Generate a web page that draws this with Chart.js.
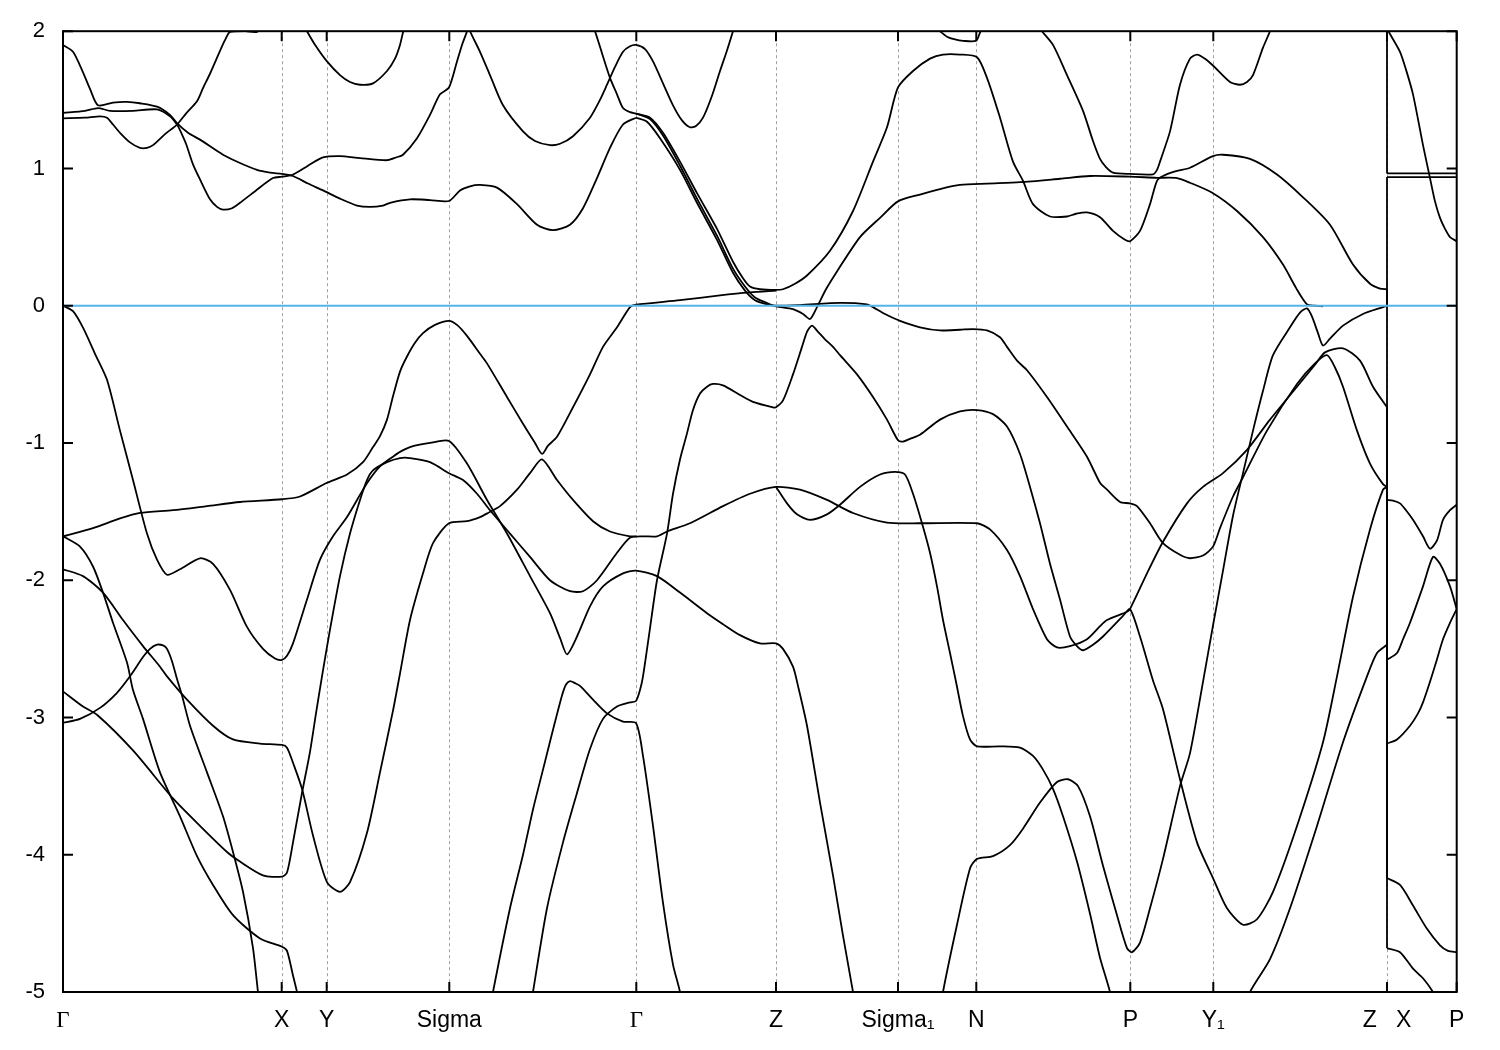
<!DOCTYPE html>
<html>
<head>
<meta charset="utf-8">
<script src="https://cdn.jsdelivr.net/npm/chart.js@4/dist/chart.umd.min.js"></script>
<style>
html,body{margin:0;padding:0;background:#fff;}
#wrap{width:1500px;height:1050px;}
</style>
</head>
<body>
<div id="wrap"><canvas id="c" width="1500" height="1050"></canvas></div>
<script>
// ---- k-path (high-symmetry points) ----
const kTicks  = [0, 2.187, 2.637, 3.863, 5.733, 7.13, 8.35, 9.133, 10.673, 11.503, 13.24, 13.937];
const kLabels = ['Γ', 'X', 'Y', 'Sigma', 'Γ', 'Z', 'Sigma₁', 'N', 'P', 'Y₁', 'Z   X', 'P'];
// ---- energy axis ----
const yTicks = [2, 1, 0, -1, -2, -3, -4, -5];
const fermiLevel = 0;

// ---- bands: [k, E(eV)] ----
const band01 = [[0,0],[0.10,-0.04],[0.20,-0.16],[0.32,-0.35],[0.44,-0.54],[0.57,-0.91],[0.70,-1.27],[0.84,-1.66],[0.94,-1.85],[1.04,-1.96],[1.17,-1.92],[1.37,-1.84],[1.50,-1.88],[1.67,-2.07],[1.84,-2.34],[2.00,-2.50],[2.12,-2.57],[2.19,-2.58],[2.24,-2.55],[2.30,-2.46],[2.44,-2.14],[2.57,-1.85],[2.70,-1.68],[2.84,-1.54],[3.00,-1.34],[3.07,-1.26],[3.17,-1.17],[3.30,-1.10],[3.37,-1.065],[3.47,-1.03],[3.67,-1.0],[3.86,-0.985],[4.04,-1.15],[4.24,-1.415],[4.44,-1.66],[4.67,-1.97],[4.87,-2.24],[4.97,-2.42],[5.04,-2.54],[5.14,-2.41],[5.27,-2.19],[5.40,-2.045],[5.60,-1.95],[5.73,-1.93],[5.94,-1.97],[6.17,-2.09],[6.44,-2.24],[6.60,-2.32],[6.77,-2.40],[6.97,-2.46],[7.13,-2.46],[7.20,-2.50],[7.30,-2.63],[7.35,-2.77],[7.44,-3.06],[7.57,-3.62],[7.70,-4.15],[7.80,-4.59],[7.90,-5.0],[7.93,-5.15]];
const band02 = [[0,-1.68],[0.30,-1.62],[0.57,-1.55],[0.77,-1.51],[1.10,-1.49],[1.44,-1.46],[1.77,-1.43],[2.19,-1.41],[2.37,-1.39],[2.64,-1.29],[2.84,-1.23],[3.00,-1.14],[3.10,-1.03],[3.17,-0.95],[3.24,-0.83],[3.30,-0.66],[3.37,-0.48],[3.44,-0.37],[3.52,-0.27],[3.60,-0.20],[3.72,-0.14],[3.86,-0.11],[3.94,-0.14],[4.04,-0.22],[4.17,-0.35],[4.24,-0.42],[4.44,-0.665],[4.60,-0.86],[4.72,-1.0],[4.79,-1.08],[4.85,-1.02],[4.94,-0.955],[5.10,-0.74],[5.27,-0.50],[5.40,-0.30],[5.54,-0.157],[5.67,-0.01],[5.73,0.008],[6.17,0.04],[6.57,0.075],[6.87,0.097],[7.13,0.11]];
const band03 = [[0,-1.68],[0.17,-1.755],[0.30,-1.90],[0.40,-2.09],[0.50,-2.31],[0.64,-2.60],[0.70,-2.80],[0.80,-3.01],[0.97,-3.40],[1.17,-3.72],[1.34,-4.01],[1.50,-4.22],[1.70,-4.44],[1.97,-4.61],[2.19,-4.67],[2.24,-4.70],[2.30,-4.88],[2.34,-5.0],[2.36,-5.1]];
const band04 = [[0,-1.92],[0.20,-1.97],[0.40,-2.09],[0.60,-2.29],[0.80,-2.48],[0.97,-2.63],[1.04,-2.70],[1.24,-2.87],[1.50,-3.06],[1.70,-3.16],[1.97,-3.19],[2.19,-3.20],[2.24,-3.22],[2.30,-3.33],[2.39,-3.52],[2.50,-3.86],[2.64,-4.20],[2.77,-4.27],[2.87,-4.20],[3.04,-3.84],[3.17,-3.40],[3.30,-2.95],[3.37,-2.68],[3.47,-2.29],[3.60,-1.95],[3.70,-1.73],[3.86,-1.585],[4.04,-1.57],[4.17,-1.54],[4.25,-1.51],[4.37,-1.46],[4.54,-1.34],[4.67,-1.22],[4.79,-1.12],[4.94,-1.27],[5.10,-1.415],[5.30,-1.57],[5.47,-1.645],[5.67,-1.68],[5.73,-1.68]];
const band05 = [[0,-2.81],[0.20,-2.92],[0.34,-2.98],[0.70,-3.24],[1.10,-3.59],[1.37,-3.79],[1.64,-3.98],[1.77,-4.05],[2.00,-4.15],[2.19,-4.16],[2.24,-4.13],[2.30,-3.91],[2.39,-3.55],[2.47,-3.25],[2.53,-2.97],[2.59,-2.70],[2.67,-2.36],[2.77,-1.97],[2.87,-1.66],[2.97,-1.415],[3.04,-1.27],[3.10,-1.20],[3.24,-1.14],[3.37,-1.11],[3.47,-1.11],[3.67,-1.14],[3.86,-1.22],[4.00,-1.27],[4.14,-1.37],[4.27,-1.49],[4.47,-1.66],[4.67,-1.83],[4.87,-2.0],[5.07,-2.08],[5.20,-2.08],[5.34,-2.0],[5.54,-1.80],[5.67,-1.69],[5.80,-1.68],[5.94,-1.68],[6.04,-1.645],[6.27,-1.585],[6.60,-1.46],[6.87,-1.37],[7.13,-1.32],[7.37,-1.34],[7.64,-1.415],[7.90,-1.51],[8.24,-1.58],[8.57,-1.585],[9.14,-1.585],[9.27,-1.63],[9.44,-1.78],[9.57,-1.97],[9.70,-2.21],[9.84,-2.43],[9.94,-2.49],[10.07,-2.48],[10.24,-2.43],[10.37,-2.335],[10.44,-2.29],[10.64,-2.23],[10.67,-2.21],[10.84,-1.95],[11.00,-1.72],[11.24,-1.44],[11.40,-1.32],[11.60,-1.22],[11.84,-1.05],[12.07,-0.83],[12.34,-0.59],[12.52,-0.43],[12.62,-0.34],[12.80,-0.31],[12.97,-0.40],[13.10,-0.59],[13.24,-0.74]];
const band06 = [[0,-3.04],[0.17,-3.01],[0.37,-2.93],[0.54,-2.82],[0.67,-2.70],[0.80,-2.56],[0.87,-2.50],[0.94,-2.47],[1.00,-2.475],[1.04,-2.50],[1.09,-2.59],[1.14,-2.72],[1.19,-2.84],[1.27,-3.06],[1.44,-3.40],[1.60,-3.72],[1.70,-3.98],[1.80,-4.27],[1.90,-4.68],[1.95,-5.0],[1.97,-5.1]];
const band07 = [[4.28,-5.1],[4.30,-5.0],[4.47,-4.39],[4.60,-4.0],[4.70,-3.67],[4.80,-3.38],[4.90,-3.09],[4.99,-2.84],[5.03,-2.76],[5.07,-2.735],[5.12,-2.75],[5.17,-2.77],[5.30,-2.87],[5.44,-2.97],[5.60,-3.03],[5.73,-3.04],[5.80,-3.28],[5.90,-3.79],[6.00,-4.35],[6.10,-4.80],[6.17,-5.0],[6.18,-5.1]];
const band08 = [[4.68,-5.1],[4.70,-5.0],[4.84,-4.39],[5.00,-3.91],[5.14,-3.55],[5.27,-3.23],[5.40,-3.01],[5.54,-2.92],[5.67,-2.89],[5.73,-2.88],[5.77,-2.80],[5.80,-2.70],[5.87,-2.35],[5.94,-2.0],[6.04,-1.66],[6.10,-1.37],[6.17,-1.12],[6.24,-0.93],[6.30,-0.76],[6.37,-0.64],[6.44,-0.59],[6.50,-0.57],[6.60,-0.58],[6.77,-0.65],[6.90,-0.70],[7.10,-0.74],[7.13,-0.74],[7.20,-0.69],[7.30,-0.50],[7.39,-0.30],[7.44,-0.19],[7.49,-0.145],[7.55,-0.19],[7.62,-0.245],[7.70,-0.30],[7.77,-0.36],[7.94,-0.50],[8.10,-0.665],[8.24,-0.83],[8.35,-0.98],[8.40,-0.99],[8.47,-0.97],[8.57,-0.94],[8.77,-0.83],[8.97,-0.77],[9.14,-0.76],[9.30,-0.79],[9.44,-0.88],[9.57,-1.08],[9.67,-1.32],[9.77,-1.585],[9.87,-1.88],[9.97,-2.14],[10.07,-2.41],[10.14,-2.48],[10.20,-2.51],[10.30,-2.47],[10.40,-2.41],[10.60,-2.26],[10.67,-2.21],[10.77,-2.41],[10.90,-2.73],[11.00,-2.94],[11.17,-3.45],[11.34,-3.91],[11.50,-4.17],[11.64,-4.39],[11.80,-4.51],[11.94,-4.47],[12.10,-4.27],[12.34,-3.79],[12.60,-3.18],[12.74,-2.70],[12.90,-2.12],[13.07,-1.63],[13.20,-1.34],[13.24,-1.32]];
const band09 = [[7.13,-1.32],[7.24,-1.44],[7.34,-1.52],[7.47,-1.56],[7.64,-1.52],[7.77,-1.45],[7.97,-1.32],[8.17,-1.23],[8.32,-1.21],[8.42,-1.23],[8.50,-1.37],[8.59,-1.585],[8.67,-1.80],[8.74,-2.045],[8.80,-2.29],[8.87,-2.53],[8.93,-2.74],[9.00,-2.99],[9.07,-3.16],[9.14,-3.21],[9.37,-3.21],[9.57,-3.22],[9.70,-3.28],[9.80,-3.38],[9.90,-3.52],[10.00,-3.72],[10.14,-4.05],[10.27,-4.43],[10.37,-4.75],[10.47,-5.0],[10.49,-5.1]];
const band10 = [[8.79,-5.1],[8.80,-5.0],[8.94,-4.51],[9.07,-4.10],[9.14,-4.03],[9.30,-4.01],[9.47,-3.93],[9.60,-3.81],[9.77,-3.62],[9.94,-3.47],[10.05,-3.45],[10.15,-3.50],[10.27,-3.72],[10.40,-4.08],[10.54,-4.44],[10.64,-4.68],[10.69,-4.71],[10.77,-4.64],[10.87,-4.39],[11.00,-4.03],[11.17,-3.50],[11.27,-3.26],[11.40,-2.74],[11.50,-2.33],[11.60,-1.93],[11.70,-1.53],[11.80,-1.22],[11.90,-0.91],[12.00,-0.62],[12.10,-0.36],[12.27,-0.157],[12.37,-0.05],[12.44,-0.02],[12.49,-0.08],[12.55,-0.20],[12.60,-0.29],[12.67,-0.24],[12.80,-0.145],[13.00,-0.06],[13.20,-0.01],[13.24,0.0]];
const band11 = [[11.85,-5.1],[11.87,-5.0],[12.07,-4.76],[12.27,-4.39],[12.54,-3.79],[12.80,-3.18],[13.04,-2.70],[13.14,-2.53],[13.24,-2.47]];
const band12 = [[5.73,1.37],[5.84,1.34],[5.97,1.22],[6.17,0.99],[6.34,0.75],[6.54,0.48],[6.70,0.24],[6.82,0.11],[6.92,0.04],[7.04,0.01],[7.13,0.0],[7.37,0.005],[7.77,0.02],[8.04,0.01],[8.10,-0.01],[8.22,-0.06],[8.37,-0.11],[8.57,-0.157],[8.77,-0.18],[8.97,-0.175],[9.10,-0.17],[9.24,-0.18],[9.37,-0.23],[9.44,-0.30],[9.54,-0.40],[9.64,-0.47],[9.84,-0.665],[10.04,-0.88],[10.24,-1.10],[10.37,-1.29],[10.44,-1.34],[10.57,-1.43],[10.67,-1.44],[10.74,-1.46],[10.87,-1.585],[11.00,-1.73],[11.17,-1.815],[11.27,-1.84],[11.40,-1.82],[11.50,-1.755],[11.57,-1.62],[11.70,-1.39],[11.80,-1.25],[12.04,-0.91],[12.34,-0.57],[12.52,-0.42],[12.64,-0.36],[12.72,-0.45],[12.80,-0.59],[12.94,-0.91],[13.07,-1.15],[13.20,-1.30],[13.24,-1.32]];
const band13 = [[5.29,2.05],[5.32,2.0],[5.39,1.84],[5.47,1.66],[5.54,1.54],[5.60,1.44],[5.67,1.41],[5.73,1.40],[5.87,1.37],[6.00,1.26],[6.17,1.05],[6.34,0.82],[6.54,0.56],[6.70,0.32],[6.80,0.20],[6.87,0.14],[6.97,0.12],[7.13,0.115],[7.20,0.12],[7.32,0.16],[7.44,0.22],[7.67,0.40],[7.90,0.69],[8.10,1.05],[8.24,1.30],[8.35,1.59],[8.50,1.71],[8.67,1.80],[8.80,1.83],[8.97,1.83],[9.14,1.81],[9.24,1.66],[9.37,1.37],[9.50,1.05],[9.60,0.91],[9.70,0.74],[9.87,0.65],[10.04,0.65],[10.13,0.67],[10.24,0.68],[10.37,0.645],[10.50,0.545],[10.62,0.48],[10.67,0.47],[10.77,0.545],[10.87,0.74],[10.94,0.91],[11.00,0.945],[11.13,0.98],[11.27,1.005],[11.50,1.09],[11.60,1.10],[11.87,1.07],[12.14,0.956],[12.40,0.79],[12.67,0.59],[12.90,0.30],[13.07,0.16],[13.17,0.125],[13.24,0.12]];
const band14 = [[5.73,1.40],[5.87,1.36],[6.00,1.24],[6.17,1.02],[6.34,0.78],[6.54,0.51],[6.70,0.27],[6.82,0.14],[6.92,0.06],[7.04,0.02],[7.13,-0.005],[7.30,-0.025],[7.40,-0.06],[7.47,-0.097],[7.54,-0.01],[7.63,0.12],[7.74,0.25],[7.97,0.50],[8.17,0.64],[8.35,0.76],[8.57,0.81],[8.77,0.85],[8.97,0.88],[9.24,0.89],[9.57,0.90],[9.97,0.925],[10.27,0.945],[10.67,0.94],[10.94,0.932],[11.14,0.93],[11.27,0.896],[11.50,0.82],[11.74,0.69],[12.00,0.50],[12.20,0.30],[12.33,0.13],[12.44,0.01],[12.52,0.0],[12.60,-0.005]];
const band15 = [[0,1.90],[0.10,1.85],[0.20,1.70],[0.27,1.58],[0.35,1.46],[0.50,1.48],[0.64,1.485],[0.77,1.475],[0.94,1.45],[1.07,1.39],[1.14,1.33],[1.25,1.26],[1.37,1.21],[1.60,1.10],[1.77,1.04],[1.94,0.99],[2.07,0.97],[2.19,0.96],[2.30,0.945],[2.45,0.89],[2.60,0.84],[2.77,0.78],[2.94,0.73],[3.07,0.72],[3.20,0.73],[3.27,0.75],[3.47,0.775],[3.67,0.77],[3.86,0.763],[3.97,0.84],[4.07,0.87],[4.17,0.88],[4.34,0.86],[4.54,0.74],[4.74,0.59],[4.90,0.55],[5.07,0.59],[5.20,0.71],[5.34,0.93],[5.47,1.15],[5.60,1.32],[5.73,1.37]];
const band16 = [[0,1.404],[0.22,1.42],[0.35,1.44],[0.47,1.42],[0.70,1.42],[0.94,1.43],[1.07,1.38],[1.14,1.32],[1.17,1.28],[1.23,1.18],[1.30,1.03],[1.37,0.92],[1.47,0.775],[1.54,0.72],[1.60,0.70],[1.69,0.71],[1.77,0.75],[1.93,0.84],[2.10,0.93],[2.19,0.94],[2.30,0.955],[2.45,1.02],[2.60,1.08],[2.77,1.09],[2.97,1.075],[3.24,1.06],[3.33,1.08],[3.40,1.10],[3.54,1.22],[3.67,1.39],[3.77,1.54],[3.86,1.59],[3.94,1.78],[3.99,1.90],[4.04,2.0],[4.05,2.05]];
const band17 = [[0,1.365],[0.22,1.37],[0.37,1.38],[0.44,1.37],[0.50,1.32],[0.57,1.26],[0.67,1.19],[0.77,1.15],[0.84,1.15],[0.90,1.17],[1.02,1.25],[1.14,1.32],[1.23,1.40],[1.34,1.49],[1.40,1.585],[1.47,1.69],[1.53,1.79],[1.59,1.89],[1.63,1.95],[1.67,1.995],[1.82,2.0],[1.94,1.995],[1.99,2.05]];
const band18 = [[2.37,2.1],[2.44,2.0],[2.53,1.89],[2.64,1.78],[2.77,1.68],[2.87,1.63],[2.97,1.61],[3.10,1.62],[3.24,1.71],[3.32,1.80],[3.37,1.90],[3.40,1.99],[3.43,2.05]];
const band19 = [[4.05,2.05],[4.07,2.0],[4.17,1.85],[4.27,1.68],[4.40,1.46],[4.60,1.27],[4.72,1.20],[4.87,1.17],[4.97,1.18],[5.10,1.235],[5.27,1.37],[5.37,1.50],[5.44,1.61],[5.52,1.74],[5.60,1.85],[5.67,1.89],[5.73,1.90],[5.82,1.87],[5.90,1.78],[6.00,1.62],[6.10,1.46],[6.19,1.35],[6.27,1.30],[6.33,1.31],[6.40,1.37],[6.49,1.53],[6.57,1.71],[6.64,1.86],[6.70,2.0],[6.72,2.05]];
const band20 = [[9.75,2.05],[9.79,2.0],[9.90,1.90],[10.04,1.68],[10.20,1.42],[10.30,1.20],[10.37,1.07],[10.43,1.01],[10.50,0.97],[10.67,0.96],[10.90,0.957],[10.94,0.99],[10.97,1.05],[11.07,1.27],[11.17,1.61],[11.27,1.80],[11.34,1.83],[11.42,1.80],[11.50,1.75],[11.67,1.63],[11.77,1.61],[11.84,1.63],[11.90,1.68],[12.00,1.88],[12.07,2.0],[12.09,2.05]];
const band21 = [[8.72,2.03],[8.77,2.0],[8.84,1.96],[8.92,1.94],[9.00,1.93],[9.13,1.93],[9.17,1.99],[9.19,2.03]];

// X -> P segment (after the Z|X break)
const xp1 = [[13.24,2.02],[13.27,1.98],[13.37,1.85],[13.43,1.72],[13.50,1.54],[13.60,1.17],[13.67,0.93],[13.72,0.76],[13.77,0.64],[13.82,0.56],[13.87,0.50],[13.937,0.47]];
const xp2 = [[13.24,0.964],[13.937,0.964]];
const xp3 = [[13.24,0.937],[13.937,0.937]];
const xp4 = [[13.24,-1.415],[13.30,-1.42],[13.37,-1.44],[13.43,-1.49],[13.50,-1.56],[13.60,-1.68],[13.67,-1.77],[13.74,-1.71],[13.80,-1.56],[13.87,-1.49],[13.937,-1.45]];
const xp5 = [[13.24,-2.58],[13.34,-2.53],[13.40,-2.43],[13.47,-2.31],[13.60,-2.045],[13.70,-1.83],[13.77,-1.88],[13.87,-2.045],[13.937,-2.21]];
const xp6 = [[13.24,-3.19],[13.34,-3.16],[13.47,-3.06],[13.55,-2.97],[13.60,-2.89],[13.67,-2.74],[13.73,-2.60],[13.80,-2.43],[13.87,-2.31],[13.937,-2.21]];
const xp7 = [[13.24,-4.17],[13.37,-4.22],[13.50,-4.37],[13.64,-4.54],[13.77,-4.66],[13.85,-4.70],[13.937,-4.71]];
const xp8 = [[13.24,-4.68],[13.37,-4.71],[13.50,-4.83],[13.60,-4.90],[13.70,-5.0],[13.73,-5.05]];

// energies joined across the Z|X break (Z side -> X side)
const zxBreakZ = [2.5, 2.5, 0.0, 0.12, -0.74, -1.32, -1.32, -2.47];
const zxBreakX = [2.02, 0.964, 0.937, -1.415, -2.58, -3.19, -4.17, -4.68];

// ---- build datasets ----
const bandSets = [band01,band02,band03,band04,band05,band06,band07,band08,band09,band10,band11,band12,band13,band14,band15,band16,band17,band18,band19,band20,band21,xp1,xp2,xp3,xp4,xp5,xp6,xp7,xp8];
const LW = 1.8;
const datasets = [];
datasets.push({
  data: [[kTicks[0], fermiLevel], [kTicks[kTicks.length - 1], fermiLevel]],
  borderColor: '#56b4e9', borderWidth: 2, showLine: true, pointRadius: 0, tension: 0
});
bandSets.forEach(b => datasets.push({
  data: b, borderColor: '#000', borderWidth: LW, showLine: true, pointRadius: 0, tension: 0.25
}));
zxBreakZ.forEach((z, i) => datasets.push({
  data: [[kTicks[10], z], [kTicks[10], zxBreakX[i]]],
  borderColor: '#000', borderWidth: LW, showLine: true, pointRadius: 0, tension: 0
}));

const framePlugin = {
  id: 'bandFrame',
  beforeDatasetsDraw(chart) {
    const {ctx, chartArea: a, scales: {x}} = chart;
    ctx.save();
    ctx.strokeStyle = '#a0a0a0';
    ctx.lineWidth = 1;
    ctx.setLineDash([3, 3]);
    kTicks.slice(1, -1).forEach(v => {
      const px = Math.round(x.getPixelForValue(v)) + 0.5;
      ctx.beginPath(); ctx.moveTo(px, a.top); ctx.lineTo(px, a.bottom); ctx.stroke();
    });
    ctx.restore();
  },
  afterDatasetsDraw(chart) {
    const {ctx, chartArea: a, scales: {x, y}} = chart;
    ctx.save();
    ctx.strokeStyle = '#000';
    ctx.lineWidth = 2;
    ctx.setLineDash([]);
    ctx.strokeRect(a.left, a.top, a.right - a.left, a.bottom - a.top);
    ctx.beginPath();
    yTicks.forEach(v => {
      const py = y.getPixelForValue(v);
      ctx.moveTo(a.left, py); ctx.lineTo(a.left + 10, py);
      ctx.moveTo(a.right, py); ctx.lineTo(a.right - 10, py);
    });
    kTicks.forEach(v => {
      const px = x.getPixelForValue(v);
      ctx.moveTo(px, a.top); ctx.lineTo(px, a.top + 10);
      ctx.moveTo(px, a.bottom); ctx.lineTo(px, a.bottom - 10);
    });
    ctx.stroke();
    ctx.restore();
  }
};

new Chart(document.getElementById('c'), {
  type: 'scatter',
  data: { datasets },
  options: {
    responsive: false,
    animation: false,
    devicePixelRatio: 1,
    events: [],
    layout: { padding: { top: 28.3, right: 43.3, bottom: 0, left: 0 } },
    plugins: { legend: { display: false }, tooltip: { enabled: false } },
    scales: {
      x: {
        type: 'linear',
        min: kTicks[0],
        max: kTicks[kTicks.length - 1],
        afterBuildTicks: s => { s.ticks = kTicks.map(v => ({ value: v })); },
        afterFit: s => { s.height = 58; },
        grid: { display: false, drawTicks: false },
        border: { display: false },
        ticks: {
          autoSkip: false, maxRotation: 0, minRotation: 0, padding: 15, color: '#000',
          font: c => ({ family: kLabels[c.index] === 'Γ' ? '"Liberation Serif", "DejaVu Serif", serif' : '"Liberation Sans", Arial, sans-serif', size: 23 }),
          callback: (v, i) => kLabels[i]
        }
      },
      y: {
        type: 'linear',
        min: yTicks[yTicks.length - 1],
        max: yTicks[0],
        afterBuildTicks: s => { s.ticks = yTicks.map(v => ({ value: v })); },
        afterFit: s => { s.width = 63; },
        grid: { display: false, drawTicks: false },
        border: { display: false },
        ticks: {
          padding: 18, color: '#000',
          font: { family: '"Liberation Sans", Arial, sans-serif', size: 22 },
          callback: v => (v < 0 ? '-' + Math.abs(v) : String(v))
        }
      }
    }
  },
  plugins: [framePlugin]
});
</script>
</body>
</html>
